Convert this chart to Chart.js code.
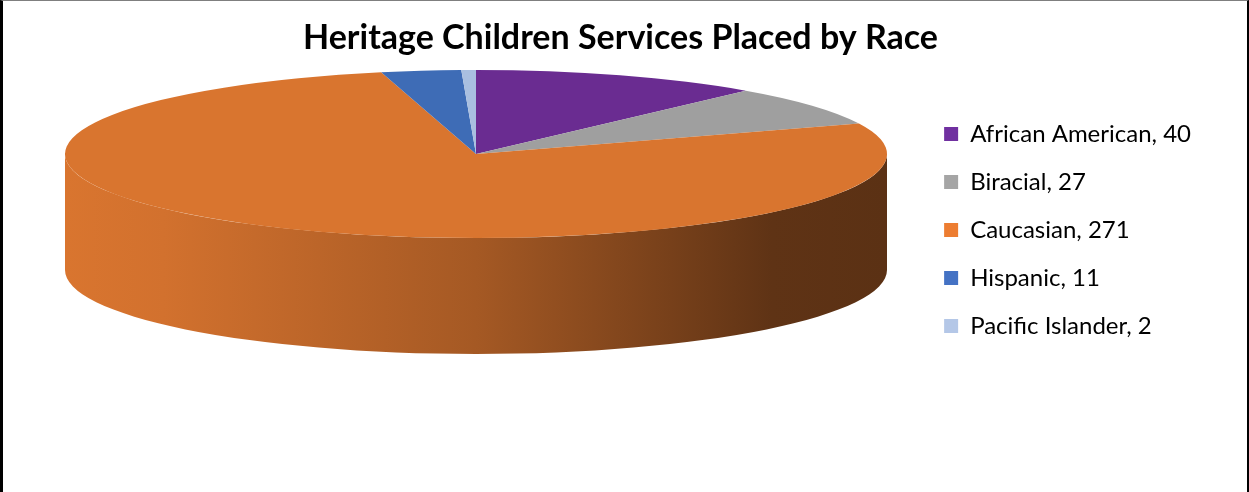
<!DOCTYPE html>
<html>
<head>
<meta charset="utf-8">
<script src="https://cdn.jsdelivr.net/npm/chart.js@4.4.0/dist/chart.umd.min.js"></script>
<style>
  body { margin: 0; background: #fff; }
  #wrap { position: relative; width: 1249px; height: 492px; }
  #frame { position: absolute; left: 0; top: 0; width: 1249px; height: 492px; box-sizing: border-box;
           border-left: 3px solid #000; border-right: 2px solid #000; border-top: 1px solid #7f7f7f; pointer-events: none; }
</style>
</head>
<body>
<div id="wrap">
  <canvas id="chart_race" width="1249" height="492"></canvas>
  <div id="frame"></div>
</div>
<script>
const race_labels = ['African American', 'Biracial', 'Caucasian', 'Hispanic', 'Pacific Islander'];
const race_counts = [40, 27, 271, 11, 2];
const top_colors = ['#6a2c91', '#9f9f9f', '#d9752f', '#3e6cb6', '#a9bfe0'];
const legend_colors = ['#7030a0', '#a5a5a5', '#ed7d31', '#4472c4', '#b4c7e7'];

function shade(hex, f) {
    const n = parseInt(hex.slice(1), 16);
    const r = Math.round(((n >> 16) & 255) * f);
    const g = Math.round(((n >> 8) & 255) * f);
    const b = Math.round((n & 255) * f);
    return 'rgb(' + r + ',' + g + ',' + b + ')';
}

// tilted pie: side walls first, then the library's arcs squashed into an ellipse
const pie3d = {
    id: 'pie3d',
    beforeDatasetsDraw(chart, args, opts) {
        const ctx = chart.ctx;
        const meta = chart.getDatasetMeta(0);
        const cx = opts.cx, cy = opts.cy, rx = opts.rx, ry = opts.ry, depth = opts.depth;
        const TWO_PI = Math.PI * 2;

        meta.data.forEach((arc, i) => {
            const s = arc.startAngle, e = arc.endAngle;
            for (let k = -1; k <= 2; k++) {
                const a = Math.max(s, k * TWO_PI);
                const b = Math.min(e, k * TWO_PI + Math.PI);
                if (b <= a) continue;
                const grad = ctx.createLinearGradient(cx - rx, 0, cx + rx, 0);
                const c = top_colors[i];
                grad.addColorStop(0, shade(c, 1.0));
                grad.addColorStop(0.12, shade(c, 0.97));
                grad.addColorStop(0.5, shade(c, 0.76));
                grad.addColorStop(0.86, shade(c, 0.44));
                grad.addColorStop(1, shade(c, 0.42));
                ctx.save();
                ctx.beginPath();
                ctx.ellipse(cx, cy, rx, ry, 0, a, b, false);
                ctx.ellipse(cx, cy + depth, rx, ry, 0, b, a, true);
                ctx.closePath();
                ctx.fillStyle = grad;
                ctx.fill();
                ctx.restore();
            }
        });

        meta.data.forEach(arc => {
            ctx.save();
            ctx.translate(cx, cy);
            ctx.scale(rx / arc.outerRadius, ry / arc.outerRadius);
            ctx.translate(-arc.x, -arc.y);
            arc.draw(ctx);
            ctx.restore();
        });
        return false;
    }
};

new Chart(document.getElementById('chart_race'), {
    type: 'pie',
    data: {
        labels: race_labels,
        datasets: [{
            data: race_counts,
            backgroundColor: top_colors,
            borderWidth: 0
        }]
    },
    plugins: [pie3d],
    options: {
        responsive: false,
        animation: false,
        layout: {
            padding: { left: 40, right: 48, bottom: 32 }
        },
        plugins: {
            pie3d: { cx: 476, cy: 154, rx: 411, ry: 84, depth: 116 },
            tooltip: { enabled: false },
            title: {
                display: true,
                text: 'Heritage Children Services Placed by Race',
                color: '#000',
                font: { family: 'Lato', size: 34, weight: 'bold' },
                padding: { top: 18, bottom: 12 }
            },
            legend: {
                position: 'right',
                labels: {
                    color: '#000',
                    font: { family: 'Lato', size: 24 },
                    boxWidth: 14,
                    boxHeight: 14,
                    padding: 24,
                    generateLabels(chart) {
                        return race_labels.map((l, i) => ({
                            text: l + ', ' + race_counts[i],
                            fillStyle: legend_colors[i],
                            strokeStyle: legend_colors[i],
                            lineWidth: 0,
                            hidden: false,
                            index: i,
                            fontColor: '#000'
                        }));
                    }
                }
            }
        }
    }
});
</script>
</body>
</html>
